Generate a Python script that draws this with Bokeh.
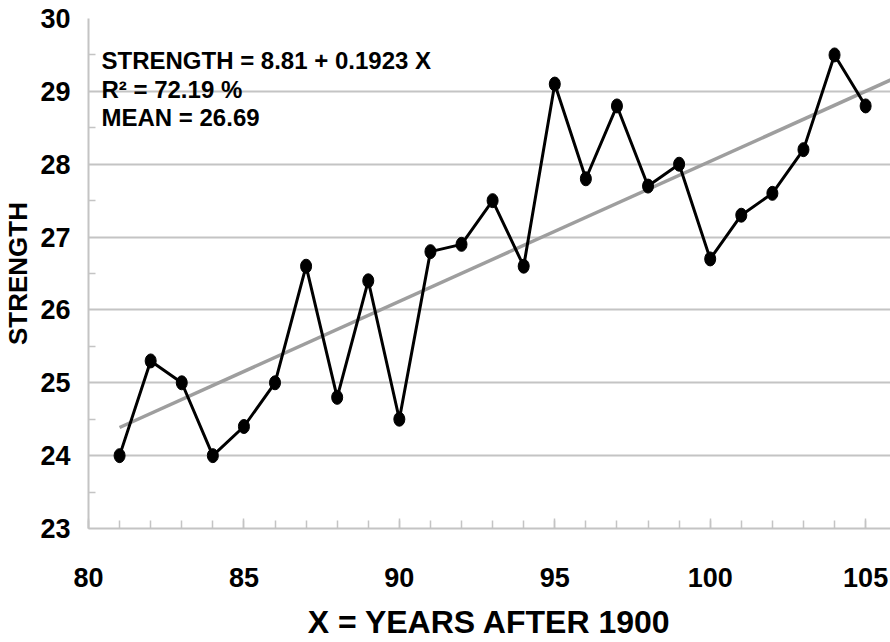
from bokeh.plotting import figure
from bokeh.models import Range1d, FixedTicker, Label
from bokeh.embed import file_html
from bokeh.resources import INLINE

years = [81, 82, 83, 84, 85, 86, 87, 88, 89, 90, 91, 92, 93, 94, 95, 96, 97, 98, 99, 100, 101, 102, 103, 104, 105]
strength = [24.0, 25.3, 25.0, 24.0, 24.4, 25.0, 26.6, 24.8, 26.4, 24.5, 26.8, 26.9, 27.5, 26.6, 29.1, 27.8, 28.8, 27.7, 28.0, 26.7, 27.3, 27.6, 28.2, 29.5, 28.8]
intercept = 8.81
slope = 0.1923
fit_x = [81, 106]
fit_y = [intercept + slope * x for x in fit_x]
x_ticks = [80, 85, 90, 95, 100, 105]
y_ticks = [23, 24, 25, 26, 27, 28, 29, 30]
notes = ["STRENGTH = 8.81 + 0.1923 X", "R\u00b2 = 72.19 %", "MEAN = 26.69"]

GRID = "#c4c4c4"
SANS = "'Liberation Sans', Arial"

p = figure(width=890, height=642, output_backend="svg", toolbar_location=None,
           x_range=Range1d(80, 105.8), y_range=Range1d(23, 30),
           min_border_left=87, min_border_right=0, min_border_top=18, min_border_bottom=114)
p.outline_line_color = None
p.background_fill_color = "white"
p.border_fill_color = "white"

# grid
p.xgrid.grid_line_color = None
p.ygrid.grid_line_color = GRID
p.ygrid.grid_line_width = 2

# x axis
xa = p.xaxis[0]
xa.ticker = FixedTicker(ticks=x_ticks, minor_ticks=list(range(80, 106)))
xa.axis_line_color = GRID
xa.axis_line_width = 2
xa.major_tick_line_color = GRID
xa.major_tick_line_width = 1.5
xa.major_tick_in = 10
xa.major_tick_out = 0
xa.minor_tick_line_color = GRID
xa.minor_tick_line_width = 1.5
xa.minor_tick_in = 8
xa.minor_tick_out = 0
xa.major_label_text_font = SANS
xa.major_label_text_font_style = "bold"
xa.major_label_text_font_size = "27px"
xa.major_label_text_color = "black"
xa.major_label_standoff = 39
xa.axis_label = "X = YEARS AFTER 1900"
xa.axis_label_text_font = SANS
xa.axis_label_text_font_style = "bold"
xa.axis_label_text_font_size = "32px"
xa.axis_label_text_color = "black"
xa.axis_label_standoff = 14

# y axis
ya = p.yaxis[0]
ya.ticker = FixedTicker(ticks=y_ticks, minor_ticks=[23.5, 24.5, 25.5, 26.5, 27.5, 28.5, 29.5])
ya.axis_line_color = GRID
ya.axis_line_width = 2
ya.major_tick_line_color = GRID
ya.major_tick_in = 0
ya.major_tick_out = 0
ya.minor_tick_line_color = GRID
ya.minor_tick_line_width = 1.5
ya.minor_tick_in = 7
ya.minor_tick_out = 0
ya.major_label_text_font = SANS
ya.major_label_text_font_style = "bold"
ya.major_label_text_font_size = "27px"
ya.major_label_text_color = "black"
ya.major_label_standoff = 18
ya.axis_label = "STRENGTH"
ya.axis_label_text_font = SANS
ya.axis_label_text_font_style = "bold"
ya.axis_label_text_font_size = "26px"
ya.axis_label_text_color = "black"
ya.axis_label_standoff = 4

# regression line
p.line(fit_x, fit_y, line_color="#9e9e9e", line_width=3.5)

# data series
p.line(years, strength, line_color="black", line_width=3)
p.ellipse(years, strength, width=11, height=14, width_units="screen", height_units="screen",
          fill_color="black", line_color="black")

# annotation
for i, t in enumerate(notes):
    p.add_layout(Label(x=13, y=468 - 28.5 * i, x_units="screen", y_units="screen", text=t,
                       text_font=SANS, text_font_style="bold", text_font_size="24px",
                       text_color="black", text_baseline="alphabetic"))

open("out.html", "w").write(file_html(p, INLINE))
